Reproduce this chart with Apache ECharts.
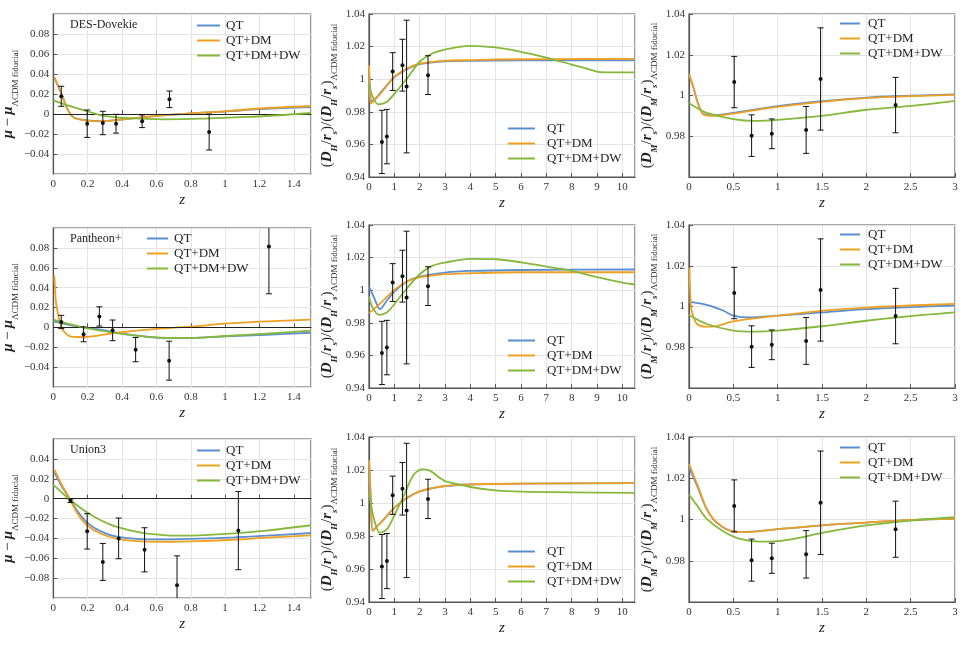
<!DOCTYPE html>
<html>
<head>
<meta charset="utf-8">
<script src="https://cdn.jsdelivr.net/npm/echarts@6/dist/echarts.min.js"></script>
<style>
  html, body { margin: 0; padding: 0; background: #fff; }
  #chart { width: 964px; height: 665px; }
</style>
</head>
<body>
<div id="chart"></div>
<script>
  const NAMES = ['QT', 'QT+DM', 'QT+DM+DW']
  const COLORS = ['#5b8fd0', '#f0a020', '#86b83a']

  // SN residuals: z, mu - mu_LCDM, error
  const desZ = [0.046, 0.197, 0.288, 0.365, 0.517, 0.676, 0.907]
  const desMu = [0.0177, -0.0097, -0.009, -0.0097, -0.0073, 0.0147, -0.018]
  const desErr = [0.010, 0.0137, 0.0117, 0.0094, 0.0063, 0.0083, 0.018]

  const panZ = [0.046, 0.176, 0.268, 0.345, 0.479, 0.674, 1.255]
  const panMu = [0.0054, -0.007, 0.011, -0.003, -0.0224, -0.0335, 0.0813]
  const panErr = [0.0067, 0.0075, 0.0097, 0.0104, 0.0122, 0.0196, 0.0475]

  const uniZ = [0.1, 0.197, 0.288, 0.38, 0.531, 0.72, 1.077]
  const uniMu = [-0.0022, -0.0329, -0.0637, -0.04, -0.0515, -0.0871, -0.0322]
  const uniErr = [0.0018, 0.0178, 0.0186, 0.0205, 0.0222, 0.0295, 0.0393]

  // BAO ratios to LCDM fiducial
  const baoZ = [0.51, 0.706, 0.934, 1.321, 1.484, 2.33]
  const dhRatio = [0.9615, 0.9648, 1.0047, 1.0086, 0.9955, 1.0025]
  const dhErr = [0.0194, 0.0167, 0.0116, 0.0159, 0.0407, 0.0119]
  const dmRatio = [1.0066, 0.9803, 0.9812, 0.9831, 1.0081, 0.9953]
  const dmErr = [0.0126, 0.0102, 0.0073, 0.0115, 0.0251, 0.0136]

  // model curves [z, value]
  const desMuQT = [[0.006, 0.036], [0.046, 0.0205], [0.083, 0.0047], [0.12, -0.0035], [0.2, -0.0065], [0.28, -0.0072], [0.37, -0.006], [0.5, -0.0037], [0.6, -0.0019], [0.8, 0.0006], [1.0, 0.0025], [1.2, 0.0048], [1.5, 0.007]]
  const desMuDM = [[0.006, 0.037], [0.046, 0.021], [0.083, 0.0047], [0.12, -0.0037], [0.2, -0.0067], [0.28, -0.0073], [0.37, -0.006], [0.5, -0.0037], [0.6, -0.0018], [0.8, 0.0007], [1.0, 0.0027], [1.2, 0.0055], [1.5, 0.008]]
  const desMuDW = [[0, 0.0137], [0.083, 0.0087], [0.2, 0.0027], [0.28, -0.0013], [0.37, -0.0033], [0.51, -0.0047], [0.66, -0.0053], [0.86, -0.0047], [1.05, -0.0033], [1.24, -0.002], [1.5, 0.001]]

  const desDhQT = [[0, 1.006], [0.04, 0.995], [0.1, 0.9865], [0.25, 0.988], [0.5, 0.9925], [1, 1.0012], [1.5, 1.0062], [2, 1.0092], [3, 1.011], [4, 1.0113], [6, 1.0115], [10.5, 1.0115]]
  const desDhDM = [[0, 1.0085], [0.03, 0.993], [0.08, 0.985], [0.2, 0.987], [0.5, 0.992], [1, 1.0014], [1.5, 1.0066], [2, 1.0096], [3, 1.0113], [4, 1.0117], [5, 1.0121], [7, 1.0123], [10.5, 1.0125]]
  const desDhDW = [[0, 0.997], [0.15, 0.989], [0.37, 0.9846], [0.7, 0.986], [1, 0.991], [1.5, 1.0004], [2, 1.0107], [2.5, 1.0158], [3, 1.0182], [4, 1.0205], [5, 1.0195], [6, 1.0168], [7, 1.0133], [8, 1.009], [8.7, 1.006], [9.1, 1.0043], [9.5, 1.0042], [10.5, 1.0042]]

  const desDmQT = [[0, 1.0105], [0.05, 1.0039], [0.105, 0.9957], [0.16, 0.991], [0.27, 0.9903], [0.5, 0.9915], [1, 0.9948], [1.5, 0.9972], [2, 0.999], [2.5, 0.9999], [3, 1.0006]]
  const desDmDM = [[0, 1.0105], [0.05, 1.0039], [0.105, 0.9957], [0.16, 0.9908], [0.27, 0.99], [0.5, 0.9911], [1, 0.9944], [1.5, 0.9969], [2, 0.9987], [2.5, 0.9997], [3, 1.0003]]
  const desDmDW = [[0, 0.9963], [0.105, 0.9935], [0.2, 0.9915], [0.5, 0.9884], [0.73, 0.9875], [1, 0.988], [1.5, 0.99], [2, 0.993], [2.5, 0.9949], [3, 0.9974]]

  const panMuQT = [[0, 0.006], [0.083, 0.0027], [0.18, -0.0003], [0.276, -0.0023], [0.37, -0.0054], [0.47, -0.008], [0.6, -0.0104], [0.7, -0.0107], [0.855, -0.0104], [1, -0.009], [1.24, -0.0074], [1.5, -0.0054]]
  const panMuDM = [[0.006, 0.052], [0.015, 0.0254], [0.029, 0.012], [0.044, 0.002], [0.064, -0.0047], [0.093, -0.0087], [0.16, -0.0097], [0.24, -0.0087], [0.37, -0.0054], [0.566, -0.002], [0.8, 0.0007], [1, 0.0037], [1.24, 0.006], [1.5, 0.0077]]
  const panMuDW = [[0, 0.0077], [0.083, 0.0037], [0.18, -0.0003], [0.276, -0.0033], [0.37, -0.0057], [0.47, -0.008], [0.6, -0.01], [0.7, -0.0107], [0.855, -0.0104], [1, -0.0087], [1.24, -0.0064], [1.5, -0.0033]]

  const panDhQT = [[0, 1.0022], [0.2, 0.9955], [0.43, 0.9884], [0.7, 0.9935], [1, 0.9992], [1.5, 1.0053], [2, 1.0084], [3, 1.0108], [4, 1.0118], [6, 1.0124], [10.5, 1.0127]]
  const panDhDM = [[0, 0.9859], [0.5, 0.9927], [1, 1.0002], [1.5, 1.0053], [2, 1.0078], [3, 1.0098], [4, 1.0104], [6, 1.011], [10.5, 1.011]]
  const panDhDW = [[0, 0.9961], [0.15, 0.989], [0.41, 0.9849], [0.7, 0.9863], [1, 0.9914], [1.5, 1.0012], [2, 1.0098], [2.5, 1.0149], [3, 1.0169], [4, 1.0192], [5, 1.019], [6, 1.0171], [7, 1.0145], [8, 1.0118], [9, 1.008], [10, 1.0047], [10.5, 1.0035]]

  const panDmQT = [[0, 1.0024], [0.2, 1.0008], [0.39, 0.9979], [0.5, 0.9955], [0.65, 0.9947], [1, 0.9955], [1.5, 0.9971], [2, 0.9987], [2.5, 0.9997], [3, 1.0005]]
  const panDmDM = [[0.005, 1.019], [0.02, 1.0011], [0.04, 0.9963], [0.09, 0.9914], [0.2, 0.9901], [0.31, 0.9904], [0.5, 0.9927], [1, 0.9955], [1.5, 0.9979], [2, 0.9994], [2.5, 1.0005], [3, 1.0013]]
  const panDmDW = [[0, 0.9958], [0.2, 0.9914], [0.5, 0.9882], [0.73, 0.9877], [1, 0.9882], [1.5, 0.9903], [2, 0.993], [2.5, 0.9953], [3, 0.9971]]

  const uniMuQT = [[0.006, 0.0264], [0.044, 0.0139], [0.097, -0.0007], [0.14, -0.0125], [0.197, -0.0241], [0.276, -0.0329], [0.37, -0.0383], [0.51, -0.0407], [0.66, -0.041], [0.855, -0.0403], [1.05, -0.039], [1.24, -0.0373], [1.5, -0.0346]]
  const uniMuDM = [[0.006, 0.0292], [0.044, 0.0156], [0.097, -0.0007], [0.14, -0.0149], [0.197, -0.0268], [0.276, -0.0353], [0.37, -0.0403], [0.51, -0.043], [0.66, -0.0434], [0.855, -0.0427], [1.05, -0.0414], [1.24, -0.0393], [1.5, -0.0369]]
  const uniMuDW = [[0, 0.0139], [0.044, 0.0071], [0.097, -0.0014], [0.197, -0.0139], [0.276, -0.0217], [0.37, -0.0285], [0.51, -0.0342], [0.66, -0.0369], [0.76, -0.0373], [0.855, -0.0369], [1.05, -0.0349], [1.24, -0.0322], [1.5, -0.0268]]

  const uniDhQT = [[0, 1.0255], [0.07, 1.003], [0.145, 0.9832], [0.3, 0.9857], [0.5, 0.9887], [1, 0.9972], [1.5, 1.003], [2, 1.007], [3, 1.0102], [4, 1.0112], [6, 1.0117], [10.5, 1.0121]]
  const uniDhDM = [[0, 1.0259], [0.07, 1.003], [0.145, 0.9828], [0.3, 0.9855], [0.5, 0.9885], [1, 0.997], [1.5, 1.003], [2, 1.0071], [3, 1.0103], [4, 1.0113], [6, 1.0117], [10.5, 1.0121]]
  const uniDhDW = [[0, 1.0067], [0.2, 0.99], [0.43, 0.982], [0.7, 0.984], [1, 0.9925], [1.35, 1.0036], [1.75, 1.0168], [2.08, 1.0204], [2.4, 1.0196], [2.8, 1.0152], [3, 1.0133], [3.32, 1.0121], [4, 1.0097], [5, 1.0077], [6, 1.0069], [8, 1.0065], [10.5, 1.0061]]

  const uniDmQT = [[0, 1.0254], [0.105, 1.0149], [0.2, 1.0049], [0.31, 0.9985], [0.5, 0.9942], [0.65, 0.994], [1, 0.9953], [1.5, 0.9972], [2, 0.9985], [2.5, 0.9998], [3, 1.0003]]
  const uniDmDM = [[0, 1.027], [0.105, 1.0157], [0.2, 1.0052], [0.31, 0.9987], [0.5, 0.9942], [0.65, 0.9939], [1, 0.9953], [1.5, 0.9972], [2, 0.9985], [2.5, 0.9998], [3, 1.0003]]
  const uniDmDW = [[0, 1.012], [0.105, 1.006], [0.2, 1.0003], [0.39, 0.9942], [0.575, 0.9906], [0.8, 0.9893], [1, 0.9895], [1.25, 0.9912], [1.5, 0.9935], [2, 0.9971], [2.5, 0.9995], [3, 1.0011]]

  const SERIF = '"Liberation Serif", "DejaVu Serif", serif'

  const muName = '{m|μ} {n|−} {m|μ}{s|ΛCDM fiducial}'
  const dhName = '{n|(}{i|D}{si|H}{n|/}{i|r}{si|s}{n|)/(}{i|D}{si|H}{n|/}{i|r}{si|s}{n|)}{s|ΛCDM fiducial}'
  const dmName = '{n|(}{i|D}{si|M}{n|/}{i|r}{si|s}{n|)/(}{i|D}{si|M}{n|/}{i|r}{si|s}{n|)}{s|ΛCDM fiducial}'

  const zip = (a, b, c) => a.map((v, i) => [v, b[i], c[i]])

  // one entry per panel: layout + which data it shows
  const panels = [
    { grid: [52, 14, 259, 160], x: [0, 1.5, 0.2], y: [-0.06, 0.1, 0.02], hideY: [true, true], zero: true, name: muName, gap: 32,
      curves: [desMuQT, desMuDM, desMuDW], pts: zip(desZ, desMu, desErr), leg: [197, 18, 23, 6], label: 'DES-Dovekie' },
    { grid: [369, 14, 266, 163], x: [0, 10.5, 1], y: [0.94, 1.04, 0.02], hideY: [false, false], name: dhName, gap: 30,
      curves: [desDhQT, desDhDM, desDhDW], pts: zip(baoZ, dhRatio, dhErr), leg: [508, 121, 27, 12] },
    { grid: [689, 14, 266, 163], x: [0, 3, 0.5], y: [0.96, 1.04, 0.02], hideY: [true, false], name: dmName, gap: 30,
      curves: [desDmQT, desDmDM, desDmDW], pts: zip(baoZ, dmRatio, dmErr), leg: [840, 16, 20, 8] },

    { grid: [52, 228, 259, 159], x: [0, 1.5, 0.2], y: [-0.06, 0.1, 0.02], hideY: [true, true], zero: true, name: muName, gap: 32,
      curves: [panMuQT, panMuDM, panMuDW], pts: zip(panZ, panMu, panErr), leg: [147, 231, 21, 6], label: 'Pantheon+' },
    { grid: [369, 225, 266, 163], x: [0, 10.5, 1], y: [0.94, 1.04, 0.02], hideY: [false, false], name: dhName, gap: 30,
      curves: [panDhQT, panDhDM, panDhDW], pts: zip(baoZ, dhRatio, dhErr), leg: [508, 333, 27, 12] },
    { grid: [689, 225, 266, 163], x: [0, 3, 0.5], y: [0.96, 1.04, 0.02], hideY: [true, false], name: dmName, gap: 30,
      curves: [panDmQT, panDmDM, panDmDW], pts: zip(baoZ, dmRatio, dmErr), leg: [840, 227, 20, 8] },

    { grid: [52, 439, 259, 159], x: [0, 1.5, 0.2], y: [-0.1, 0.06, 0.02], hideY: [true, true], zero: true, name: muName, gap: 32,
      curves: [uniMuQT, uniMuDM, uniMuDW], pts: zip(uniZ, uniMu, uniErr), leg: [197, 443, 23, 6], label: 'Union3' },
    { grid: [369, 437, 266, 165], x: [0, 10.5, 1], y: [0.94, 1.04, 0.02], hideY: [false, false], name: dhName, gap: 30,
      curves: [uniDhQT, uniDhDM, uniDhDW], pts: zip(baoZ, dhRatio, dhErr), leg: [508, 544, 27, 12] },
    { grid: [689, 437, 266, 165], x: [0, 3, 0.5], y: [0.96, 1.04, 0.02], hideY: [true, false], name: dmName, gap: 30,
      curves: [uniDmQT, uniDmDM, uniDmDW], pts: zip(baoZ, dmRatio, dmErr), leg: [840, 440, 20, 8] }
  ]

  function fmt (v) {
    return String(+v.toFixed(3)).replace('-', '\u2212')
  }

  function renderErr (params, api) {
    const cs = params.coordSys
    const x = api.value(0)
    const y = api.value(1)
    const e = api.value(2)
    const c = api.coord([x, y])
    const top = api.coord([x, y + e])[1]
    const bot = api.coord([x, y - e])[1]
    const yMin = cs.y
    const yMax = cs.y + cs.height
    const style = { stroke: '#111', lineWidth: 1 }
    const children = [{
      type: 'line',
      shape: { x1: c[0], y1: Math.max(top, yMin), x2: c[0], y2: Math.min(bot, yMax) },
      style
    }]
    if (top >= yMin) children.push({ type: 'line', shape: { x1: c[0] - 3, y1: top, x2: c[0] + 3, y2: top }, style })
    if (bot <= yMax) children.push({ type: 'line', shape: { x1: c[0] - 3, y1: bot, x2: c[0] + 3, y2: bot }, style })
    if (c[1] >= yMin && c[1] <= yMax) {
      children.push({ type: 'circle', shape: { cx: c[0], cy: c[1], r: 2 }, style: { fill: '#111' } })
    }
    return { type: 'group', children }
  }

  const nameRich = {
    m: { fontFamily: SERIF, fontSize: 15, fontStyle: 'italic', fontWeight: 'bold', color: '#222', lineHeight: 20 },
    i: { fontFamily: SERIF, fontSize: 15, fontStyle: 'italic', fontWeight: 'bold', color: '#222', lineHeight: 20 },
    n: { fontFamily: SERIF, fontSize: 15, color: '#222', lineHeight: 20 },
    si: { fontFamily: SERIF, fontSize: 9, fontStyle: 'italic', fontWeight: 'bold', color: '#222', verticalAlign: 'bottom', lineHeight: 23 },
    s: { fontFamily: SERIF, fontSize: 9, color: '#222', verticalAlign: 'bottom', lineHeight: 23 }
  }

  const labelStyle = { fontFamily: SERIF, fontSize: 11, color: '#333' }
  const splitStyle = { show: true, lineStyle: { color: '#e4e4e4', width: 1 } }

  const option = {
    animation: false,
    backgroundColor: '#fff',
    title: [],
    legend: [],
    grid: [],
    xAxis: [],
    yAxis: [],
    series: []
  }

  panels.forEach((p, k) => {
    option.grid.push({
      left: p.grid[0], top: p.grid[1], width: p.grid[2], height: p.grid[3],
      show: true, borderColor: '#555', borderWidth: 1.2, backgroundColor: 'transparent'
    })
    option.xAxis.push({
      type: 'value', gridIndex: k, min: p.x[0], max: p.x[1], interval: p.x[2],
      name: 'z', nameLocation: 'middle', nameGap: 19,
      nameTextStyle: { fontFamily: SERIF, fontSize: 15, fontStyle: 'italic', color: '#222' },
      axisLine: { show: true, lineStyle: { color: '#555', width: 1.2 } },
      axisTick: { show: true, inside: true, length: 4, lineStyle: { color: '#555' } },
      axisLabel: { ...labelStyle, margin: 5, formatter: fmt, showMaxLabel: p.x[1] % p.x[2] === 0 },
      splitLine: splitStyle
    })
    option.yAxis.push({
      type: 'value', gridIndex: k, min: p.y[0], max: p.y[1], interval: p.y[2],
      name: p.name, nameLocation: 'middle', nameRotate: 90, nameGap: p.gap,
      nameTextStyle: { rich: nameRich },
      axisLine: { show: true, lineStyle: { color: '#555', width: 1.2 } },
      axisTick: { show: true, inside: true, length: 4, lineStyle: { color: '#555' } },
      axisLabel: { ...labelStyle, margin: 4, formatter: fmt, showMinLabel: !p.hideY[0], showMaxLabel: !p.hideY[1] },
      splitLine: splitStyle
    })
    p.curves.forEach((c, j) => {
      const s = {
        type: 'line', name: NAMES[j], xAxisIndex: k, yAxisIndex: k,
        data: c, showSymbol: false, symbol: 'none', smooth: 0.3,
        lineStyle: { color: COLORS[j], width: 1.8 }, itemStyle: { color: COLORS[j] },
        z: 3 + j
      }
      if (p.zero && j === 0) {
        s.markLine = {
          silent: true, symbol: 'none', label: { show: false },
          lineStyle: { color: '#222', type: 'solid', width: 1.2 },
          data: [{ yAxis: 0 }]
        }
      }
      option.series.push(s)
    })
    option.series.push({
      type: 'custom', xAxisIndex: k, yAxisIndex: k, renderItem: renderErr,
      data: p.pts, z: 10, silent: true
    })
    option.legend.push({
      data: NAMES, orient: 'vertical', left: p.leg[0], top: p.leg[1], padding: 0,
      icon: 'rect', itemWidth: p.leg[2], itemHeight: 2, itemGap: 0, selectedMode: false,
      textStyle: { fontFamily: SERIF, fontSize: 13, color: '#222', lineHeight: 15, padding: [0, 0, 0, p.leg[3] - 5] }
    })
    if (p.label) {
      option.title.push({
        text: p.label, left: 70, top: p.grid[1] + 5, padding: 0,
        textStyle: { fontFamily: SERIF, fontSize: 12, fontWeight: 'normal', color: '#222' }
      })
    }
  })

  let chart = echarts.init(document.getElementById('chart'), null, { renderer: 'canvas' })
  chart.setOption(option)
</script>
</body>
</html>
